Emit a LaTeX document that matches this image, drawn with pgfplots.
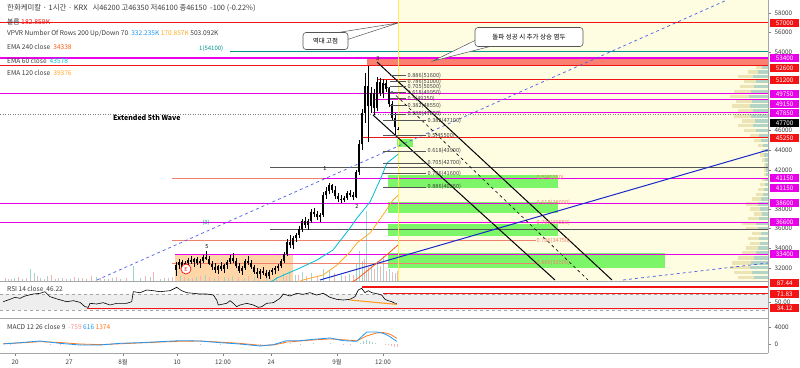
\documentclass[border=0pt]{standalone}
\usepackage{pgfplots}
\pgfplotsset{compat=1.18}
\usepackage{pgfplotstable}
\usepackage{fontspec}
\setmainfont{Noto Sans CJK KR}
\newcommand{\fs}[1]{\fontsize{#1}{#1}\selectfont}
\definecolor{tvred}{RGB}{242,20,20}
\definecolor{tvmag}{RGB}{232,0,232}
\definecolor{tvsalmon}{RGB}{240,128,110}
\definecolor{tvpink}{RGB}{250,128,114}
\definecolor{tvteal}{RGB}{0,150,136}
\definecolor{tvyellow}{RGB}{254,253,226}
\definecolor{tvyline}{RGB}{255,238,88}
\definecolor{tvgreen}{RGB}{112,245,92}
\definecolor{tvorangebox}{RGB}{255,214,168}
\definecolor{tvblue}{RGB}{25,40,200}
\definecolor{tvdblue}{RGB}{70,90,230}
\definecolor{emaA}{RGB}{0,188,212}
\definecolor{emaB}{RGB}{255,170,40}
\definecolor{emaC}{RGB}{255,90,20}
\definecolor{macdblue}{RGB}{33,150,243}
\definecolor{macdorange}{RGB}{255,120,30}
\definecolor{volteal}{RGB}{160,212,205}
\definecolor{volred}{RGB}{248,178,178}
\definecolor{txtgray}{RGB}{60,60,60}
\definecolor{darkline}{RGB}{85,85,85}
\definecolor{vpbeige}{RGB}{232,222,170}
\definecolor{vpteal}{RGB}{165,208,204}
\pgfplotsset{nomark/.style={only marks, mark=*, mark size=0.01pt, mark options={opacity=0}}}

\pgfplotstableread{
x o h l c
176 31800 32600 31200 32300
179 32300 32900 31900 32600
182 32600 32800 31800 32000
185 32000 32700 31700 32500
188 32500 33000 32200 32800
191 32800 33200 32400 32600
194 32600 33000 32100 32900
197 32900 33100 32300 32500
200 32500 32900 32000 32700
203 32700 33300 32500 33100
206 33100 33700 32800 32900
209 32900 33200 32300 32400
212 32400 32700 31800 32100
215 32100 32500 31500 31800
218 31800 32300 31400 32200
221 32200 32600 31700 31900
224 31900 32400 31500 32300
227 32300 32800 31900 32600
230 32600 33300 32400 33000
233 33000 33500 32500 32700
236 32700 33000 32000 32200
239 32200 32500 31500 31700
242 31700 32200 31300 32000
245 32000 32900 31800 32700
248 32700 33200 32300 32500
251 32500 32800 31900 32100
254 32100 32300 31400 31600
257 31600 32000 31000 31400
260 31400 31900 30900 31700
263 31700 32100 31300 31500
266 31500 31800 31000 31200
269 31200 31800 30900 31600
272 31600 32000 31300 31800
275 31800 32200 31400 32000
278 32000 32400 31700 32200
281 32200 32900 32000 32700
284 32700 33600 32500 33400
287 33400 34900 33200 34600
290 34600 35300 34000 34300
293 34300 35200 33900 35000
296 35000 35600 34600 35300
299 35300 36300 35000 36000
302 36000 37000 35700 36800
305 36800 37200 36100 36400
308 36400 37000 35900 36800
311 36800 38000 36600 37700
314 37700 38100 37200 37500
317 37500 37800 36900 37200
320 37200 37600 36700 37400
323 37400 39700 37200 39400
326 39400 40200 39000 39800
329 39800 40700 39500 40400
332 40400 40600 39600 39900
335 39900 40300 39000 39300
338 39300 39600 38700 39000
341 39000 39400 38600 38900
344 38900 39300 38700 39100
347 39100 39800 38900 39600
350 39600 39900 39200 39400
353 39400 39700 38900 39200
356 39200 42000 39100 41800
359 41800 45000 41500 44600
362 44600 48200 44000 47800
365 47800 51900 46800 50600
368 50600 52600 44800 48500
371 48500 50500 47800 49800
374 49800 50200 47600 48300
377 48300 51500 48000 51000
380 51000 51400 49500 49800
383 49800 51300 49300 50900
386 50900 51200 49900 50200
389 50200 50500 48400 48700
392 48700 49000 47000 47300
395 47300 47800 45600 46400
398 46200 46350 46100 46150
}\candles

\pgfplotstableread{
x h
8 2
14 3
22 2
30 12
34 8
40 3
47 5
55 2
62 3
70 2
78 3
86 2
96 4
104 2
112 3
120 2
133 15
140 3
150 4
160 2
168 3
180 5
188 3
196 4
205 6
214 3
224 4
232 5
244 3
254 4
266 3
276 4
283 8
289 10
295 6
302 9
311 8
323 12
329 10
341 6
349 7
356 18
359 30
362 20
366 70
371 15
377 20
383 25
389 12
395 8
}\volup

\pgfplotstableread{
x h
5 3
11 2
18 4
26 3
37 5
44 2
51 6
58 3
66 2
74 4
82 3
91 5
100 3
108 2
116 4
126 3
145 5
153 9
164 3
172 4
184 4
192 3
200 5
209 4
218 5
228 3
238 4
248 5
258 4
270 3
286 5
298 6
306 5
317 5
334 8
345 5
353 6
364 22
368 14
374 12
380 15
386 10
392 9
397 10
}\voldn

\pgfplotstableread{
p len up
31000 30 14
31500 34 16
32000 38 18
32500 36 17
33000 30 14
33500 26 12
34000 22 10
34500 18 8
35000 20 9
35500 16 7
36000 22 10
36500 26 12
37000 20 9
37500 14 6
38000 18 8
38500 22 10
39000 16 7
39500 12 5
40000 10 4
40500 8 3
41000 6 3
41500 4 2
42000 4 2
42500 4 2
43000 6 3
43500 8 4
44000 6 3
44500 10 5
45000 14 7
45500 18 9
46000 24 12
46500 30 15
47000 26 13
47500 34 17
48000 30 15
48500 36 18
49000 32 16
49500 38 19
50000 34 17
50500 28 14
51000 24 12
51500 30 15
52000 20 10
52500 12 6
}\vpvr

\begin{document}
\begin{tikzpicture}[x=1pt,y=1pt]
\fill[white] (0,0) rectangle (800,367);
\useasboundingbox (0,0) rectangle (800,367);

% ---------------- main price pane ----------------
\begin{axis}[
  at={(0pt,86pt)}, anchor=south west,
  scale only axis, width=768pt, height=281pt,
  xmin=0, xmax=768, ymin=30653, ymax=59327,
  axis x line*=bottom, axis y line*=right,
  axis line style={draw=gray!70, line width=0.6pt},
  xtick=\empty,
  ytick={32000,34000,36000,38000,42000,44000,46000,54000,56000,58000},
  scaled y ticks=false,
  tick style={gray, line width=0.4pt}, tick align=outside, major tick length=3pt,
  yticklabel style={font=\fs{6.3}, text=txtgray},
  /pgf/number format/set thousands separator={},
  /pgf/number format/assume math mode=true,
  clip mode=individual,
]
% backgrounds
\addplot[fill=tvyellow, draw=none] coordinates {(398,30653) (768,30653) (768,59327) (398,59327)} -- cycle;
\addplot[fill=tvorangebox, draw=none] coordinates {(175,30653) (293,30653) (293,33400) (175,33400)} -- cycle;
\addplot[fill=tvpink, draw=none] coordinates {(367,52600) (768,52600) (768,53400) (367,53400)} -- cycle;
\addplot[fill=tvgreen, fill opacity=0.9, draw=none] coordinates {(397,44330) (413,44330) (413,45150) (397,45150)} -- cycle;
\addplot[fill=tvgreen, fill opacity=0.9, draw=none] coordinates {(388,40140) (558,40140) (558,41470) (388,41470)} -- cycle;
\addplot[fill=tvgreen, fill opacity=0.9, draw=none] coordinates {(388,37590) (558,37590) (558,38720) (388,38720)} -- cycle;
\addplot[fill=tvgreen, fill opacity=0.9, draw=none] coordinates {(388,35240) (558,35240) (558,36470) (388,36470)} -- cycle;
\addplot[fill=tvgreen, fill opacity=0.9, draw=none] coordinates {(388,31980) (665,31980) (665,33510) (388,33510)} -- cycle;

% volume
\addplot[ycomb, volteal, line width=1pt] table[x=x, y expr=30653+\thisrow{h}*102] {\volup};
\addplot[ycomb, volred, line width=1pt] table[x=x, y expr=30653+\thisrow{h}*102] {\voldn};

% VPVR profile
\addplot[nomark, error bars/.cd, x dir=minus, x explicit, error mark=none,
  error bar style={line width=3.4pt, vpbeige, opacity=0.8}]
  table[x expr=768, y=p, x error=len] {\vpvr};
\addplot[nomark, error bars/.cd, x dir=minus, x explicit, error mark=none,
  error bar style={line width=3.4pt, vpteal, opacity=0.8}]
  table[x expr=768, y=p, x error=up] {\vpvr};

% horizontal levels
\addplot[tvred, line width=1pt] coordinates {(0,57000) (768,57000)};
\addplot[tvteal, line width=0.6pt] coordinates {(230,54100) (768,54100)};
\addplot[tvmag, line width=1.2pt] coordinates {(0,53400) (768,53400)};
\addplot[tvred, line width=1pt] coordinates {(0,52600) (768,52600)};
\addplot[tvred, line width=1pt] coordinates {(377,51200) (768,51200)};
\addplot[tvmag, line width=1pt] coordinates {(0,49750) (768,49750)};
\addplot[tvmag, line width=0.8pt] coordinates {(373,49150) (768,49150)};
\addplot[tvmag, line width=1pt] coordinates {(373,47850) (768,47850)};
\addplot[gray, line width=0.5pt, dotted] coordinates {(0,47700) (768,47700)};
\addplot[tvred, line width=1pt] coordinates {(363,45250) (768,45250)};
\addplot[darkline, line width=0.7pt] coordinates {(270,42200) (768,42200)};
\addplot[tvsalmon, line width=0.7pt] coordinates {(172,41150) (323,41150)};
\addplot[tvmag, line width=1pt] coordinates {(323,41150) (768,41150)};
\addplot[tvmag, line width=1pt] coordinates {(0,38600) (768,38600)};
\addplot[tvmag, line width=1pt] coordinates {(0,36600) (768,36600)};
\addplot[darkline, line width=0.7pt] coordinates {(270,35950) (768,35950)};
\addplot[tvsalmon, line width=0.7pt] coordinates {(172,34750) (536,34750)};
\addplot[tvsalmon, line width=0.7pt] coordinates {(172,32500) (536,32500)};
\addplot[tvmag, line width=1pt] coordinates {(175,33400) (768,33400)};

% now-line
\addplot[tvyline, line width=0.8pt] coordinates {(398,30653) (398,59327)};

% trend lines
\addplot[tvdblue, line width=0.7pt, dashed] coordinates {(97,30755) (727,59327)};
\addplot[tvdblue, line width=0.7pt, dashed] coordinates {(623,30755) (768,32490)};
\addplot[tvblue, line width=1pt] coordinates {(320,30755) (768,44020)};
\addplot[black, line width=1pt] coordinates {(373,47592) (555,30755)};
\addplot[black, line width=1pt] coordinates {(377,52999) (612,30755)};
\addplot[black, line width=0.6pt, dashed] coordinates {(383,50857) (588,30755)};

% EMAs
\addplot[emaC, line width=0.8pt] coordinates {(350,30400) (357,30857) (377,32490) (390,33612) (398,34338)};
\addplot[emaB, line width=0.8pt] coordinates {(295,30400) (303,30755) (323,31265) (337,32286) (350,33612) (357,34531) (370,35551) (383,37388) (393,38918) (398,39376)};
\addplot[emaA, line width=0.8pt] coordinates {(270,30500) (277,30959) (300,31980) (317,32796) (333,33816) (350,36061) (357,37082) (370,38714) (380,40959) (387,42694) (398,43578)};

% candles
\addplot[nomark, error bars/.cd, y dir=plus, y explicit, error mark=none,
  error bar style={line width=0.45pt, black}]
  table[x=x, y=l, y error expr=\thisrow{h}-\thisrow{l}] {\candles};
\addplot[nomark, error bars/.cd, y dir=plus, y explicit, error mark=none,
  error bar style={line width=1.4pt, black}]
  table[x=x, y expr={min(\thisrow{o},\thisrow{c})}, y error expr={abs(\thisrow{c}-\thisrow{o})}] {\candles};

% fib retracement lines
\addplot[darkline, line width=0.6pt] coordinates {(390,51600) (406,51600)};
\addplot[darkline, line width=0.6pt] coordinates {(390,51000) (406,51000)};
\addplot[darkline, line width=0.6pt] coordinates {(390,50500) (406,50500)};
\addplot[darkline, line width=0.6pt] coordinates {(390,49950) (406,49950)};
\addplot[darkline, line width=0.6pt] coordinates {(390,49250) (406,49250)};
\addplot[darkline, line width=0.6pt] coordinates {(390,48550) (406,48550)};
\addplot[darkline, line width=0.6pt] coordinates {(390,47650) (406,47650)};
\addplot[darkline, line width=0.6pt] coordinates {(383,47100) (426,47100)};
\addplot[darkline, line width=0.6pt] coordinates {(383,45500) (426,45500)};
\addplot[darkline, line width=0.6pt] coordinates {(383,43900) (426,43900)};
\addplot[darkline, line width=0.6pt] coordinates {(383,42700) (426,42700)};
\addplot[darkline, line width=0.6pt] coordinates {(383,41600) (426,41600)};
\addplot[darkline, line width=0.6pt] coordinates {(383,40260) (426,40260)};

\begin{scope}[every node/.style={anchor=west, font=\fs{5.6}, inner sep=0.5pt, text=txtgray}]
\node at (axis cs:407,51600) {0.886(51600)};
\node at (axis cs:407,51000) {0.786(51000)};
\node at (axis cs:407,50450) {0.705(50500)};
\node at (axis cs:407,49900) {0.618(49950)};
\node at (axis cs:407,49200) {0.5(49250)};
\node at (axis cs:407,48550) {0.382(48550)};
\node at (axis cs:407,47700) {0.236(47650)};
\node at (axis cs:427,47050) {0.382(47100)};
\node at (axis cs:427,45500) {0.5(45500)};
\node at (axis cs:427,43900) {0.618(43900)};
\node at (axis cs:427,42700) {0.705(42700)};
\node at (axis cs:427,41600) {0.786(41600)};
\node at (axis cs:427,40260) {0.886(40260)};
\end{scope}
\begin{scope}[every node/.style={anchor=west, font=\fs{5.6}, inner sep=0.5pt, text=tvsalmon}]
\node at (axis cs:536,41150) {0.5(41150)};
\node at (axis cs:536,38600) {0.618(38600)};
\node at (axis cs:536,36550) {0.705(36550)};
\node at (axis cs:536,34750) {0.786(34750)};
\node at (axis cs:536,32500) {0.886(32500)};
\end{scope}
\end{axis}

% ---------------- RSI pane ----------------
\begin{axis}[
  at={(0pt,49pt)}, anchor=south west,
  scale only axis, width=768pt, height=37pt,
  xmin=0, xmax=768, ymin=10, ymax=102.5,
  axis x line*=bottom, axis y line*=right,
  axis line style={draw=gray!70, line width=0.6pt},
  xtick=\empty, ytick={50}, yticklabels={50.00},
  tick style={gray, line width=0.4pt}, tick align=outside, major tick length=3pt,
  yticklabel style={font=\fs{6.3}, text=txtgray},
  clip mode=individual,
]
\addplot[fill=gray!13, draw=none] coordinates {(0,30) (768,30) (768,70) (0,70)} -- cycle;
\addplot[gray!70, dashed, line width=0.5pt] coordinates {(0,70) (768,70)};
\addplot[gray!70, dashed, line width=0.5pt] coordinates {(0,30) (768,30)};
\addplot[tvred, line width=1.1pt] coordinates {(362,87.44) (768,87.44)};
\addplot[tvred, line width=1.1pt] coordinates {(383,71.83) (768,71.83)};
\addplot[tvred, line width=1.1pt] coordinates {(87,34.12) (768,34.12)};
\addplot[black, line width=0.6pt] coordinates {
(3.3,50.8) (10,56.7) (15,61.7) (20,59.2) (25,65) (33.3,70) (40,71.7) (45,75.8) (50,63.3)
(58.3,56.7) (66.7,50.8) (73.3,53.3) (80,49.2) (85,38.3) (88.3,36.7) (90,46.7) (96.7,45)
(103.3,48.3) (110,42.5) (116.7,46.7) (121.7,46.7) (126.7,46.7) (131.7,50.8) (133.3,75.8)
(140,73.3) (146.7,80) (153.3,78.3) (160,75.8) (170,78.3) (176.7,86.7) (181.7,78.3)
(186.7,73.3) (193.3,71.7) (200,70) (206.7,70) (213.3,67.5) (216.7,55) (218.3,42.5)
(221.7,44.2) (226.7,46.7) (230,53.3) (233.3,46.7) (236.7,38.3) (240,42.5) (246.7,46.7)
(253.3,42.5) (258.3,36.7) (261.7,38.3) (266.7,46.7) (273.3,48.3) (280,59.2) (283.3,70)
(290,65) (296.7,71.7) (303.3,69.2) (310,73.3) (316.7,67.5) (323.3,71.7) (330,61.7)
(336.7,56.7) (343.3,55) (350,56.7) (355,63.3) (358.3,80) (361.7,84.2) (365,73.3)
(368.3,78.3) (371.7,73.3) (375,71.7) (378.3,70) (381.7,67.5) (385,56.7) (388.3,53.3)
(391.7,50.8) (395,46.7) (396.7,46.22)};
\addplot[emaB!80!emaC, line width=1.1pt] coordinates {(350,55) (397,44)};
\end{axis}

% ---------------- MACD pane ----------------
\begin{axis}[
  at={(0pt,14pt)}, anchor=south west,
  scale only axis, width=768pt, height=35pt,
  xmin=0, xmax=768, ymin=-2118, ymax=6118,
  axis x line*=bottom, axis y line*=right,
  axis line style={draw=gray!70, line width=0.6pt},
  xtick={15,69,123,177,223,271,337,383},
  xticklabels={20,27,8월,10,12:00,24,9월,12:00},
  ytick={0,4000},
  scaled y ticks=false,
  tick style={gray, line width=0.4pt}, tick align=outside, major tick length=3pt,
  ticklabel style={font=\fs{6.3}, text=txtgray},
  /pgf/number format/set thousands separator={},
  /pgf/number format/assume math mode=true,
  clip mode=individual,
]
\addplot[ycomb, volteal, line width=1pt] coordinates {(283,300) (290,250) (300,100) (313,150) (330,200) (360,300) (363,600) (366,900) (369,700) (372,400) (375,200)};
\addplot[ycomb, volred, line width=1pt] coordinates {(10,-100) (50,-200) (60,-150) (80,-250) (100,-100) (200,-150) (220,-200) (240,-150) (260,-200) (343,-200) (350,-150) (385,-200) (388,-350) (391,-500) (394,-650) (397,-759)};
\addplot[macdorange, line width=0.8pt] coordinates {(3.3,100) (20,250) (40,550) (60,350) (80,0) (100,-150) (120,50) (140,250) (160,450) (180,650) (200,700) (220,450) (240,150) (260,-300) (273.3,-250) (286.7,450) (300,700) (313.3,950) (330,1200) (343.3,1000) (356.7,750) (366.7,1900) (376.7,2600) (383.3,2700) (390,2300) (396.7,1374)};
\addplot[macdblue, line width=0.8pt] coordinates {(3.3,0) (20,314) (40,706) (60,157) (80,-235) (100,-235) (120,157) (140,314) (160,549) (180,784) (200,706) (220,314) (240,0) (260,-470) (273.3,-157) (286.7,784) (300,784) (313.3,1098) (330,1412) (343.3,784) (356.7,627) (366.7,2824) (376.7,2824) (383.3,2510) (390,1725) (396.7,616)};
\end{axis}

% ---------------- overlay texts ----------------
\begin{scope}[every node/.style={anchor=west, inner sep=0pt, text=txtgray}]
\node[font=\fs{7.4}] at (7,359) {한화케미칼 · 1시간 · KRX \ \ 시46200 고46350 저46100 종46150 \ -100 (-0.22\%)};
\node[font=\fs{6.8}] at (7,345) {볼륨 \textcolor{tvred}{182.859K}};
\node[font=\fs{6.6}] at (7,333) {VPVR Number Of Rows 200 Up/Down 70 \ \textcolor{macdblue}{332.235K} \textcolor{emaB}{170.857K} 503.092K};
\node[font=\fs{6.6}] at (7,320) {EMA 240 close \ \textcolor{emaC}{34338}};
\node[font=\fs{6.6}] at (7,306) {EMA 60 close \ \textcolor{emaA}{43578}};
\node[font=\fs{6.6}] at (7,294) {EMA 120 close \ \textcolor{emaB}{39376}};
\node[font=\fs{6.6}] at (7,78) {RSI 14 close \ 46.22};
\node[font=\fs{6.6}] at (7,40) {MACD 12 26 close 9 \ \textcolor{volred!80!red}{-759} \textcolor{macdblue}{616} \textcolor{macdorange}{1374}};
\node[font=\bfseries\fs{7}, text=black] at (113,249) {Extended 5th Wave};
\node[font=\fs{6}, text=tvteal] at (199,318) {1(54100)};
\end{scope}

% wave labels
\node[font=\fs{5.5}, text=black] at (378,308) {3};
\node[font=\fs{5.5}, text=black] at (325,198) {1};
\node[font=\fs{5.5}, text=black] at (357,160) {2};
\node[font=\fs{5.5}, text=black] at (207,120) {5};
\node[font=\fs{5.5}, text=tvteal] at (206,144) {(3)};
\node[circle, draw=tvred, fill=white, line width=0.7pt, inner sep=0.6pt, minimum size=10pt, font=\fs{5.5}, text=tvred] at (186,98) {E};

% callouts
\filldraw[fill=white, draw=darkline, line width=0.5pt] (335,334) -- (398,344) -- (346,327) -- cycle;
\node[draw=darkline, fill=white, rounded corners=3pt, line width=0.6pt, minimum width=45pt, minimum height=17pt, font=\fs{6.5}, text=black] at (325.5,326) {역대 고점};
\filldraw[fill=white, draw=darkline, line width=0.5pt] (478,328) -- (433,306) -- (492,321) -- cycle;
\node[draw=darkline, fill=white, rounded corners=3pt, line width=0.6pt, minimum width=108pt, minimum height=19pt, font=\fs{6.5}, text=black] at (529,330) {돌파 성공 시 추가 상승 염두};

% right-side price labels
\tikzset{rl/.style={anchor=west, text=white, font=\fs{6.3}, inner sep=0.8pt, minimum height=8.4pt, minimum width=29pt}}
\node[rl, fill=tvred] at (770,344) {57000};
\node[rl, fill=tvmag] at (770,309) {53400};
\node[rl, fill=tvred] at (770,299) {52600};
\node[rl, fill=tvred] at (770,287) {51200};
\node[rl, fill=tvmag] at (770,273) {49750};
\node[rl, fill=tvmag] at (770,263) {49150};
\node[rl, fill=tvmag] at (770,254) {47850};
\node[rl, fill=black] at (770,244) {47700};
\node[rl, fill=tvred] at (770,229) {45250};
\node[rl, fill=tvmag] at (770,189) {41150};
\node[rl, fill=tvmag] at (770,179) {41150};
\node[rl, fill=tvmag] at (770,164) {38600};
\node[rl, fill=tvmag] at (770,145) {36600};
\node[rl, fill=tvmag] at (770,113) {33400};
\node[rl, fill=tvred] at (770,84) {87.44};
\node[rl, fill=tvred] at (770,73) {71.83};
\node[rl, fill=tvred] at (770,59) {34.12};
\end{tikzpicture}
\end{document}
